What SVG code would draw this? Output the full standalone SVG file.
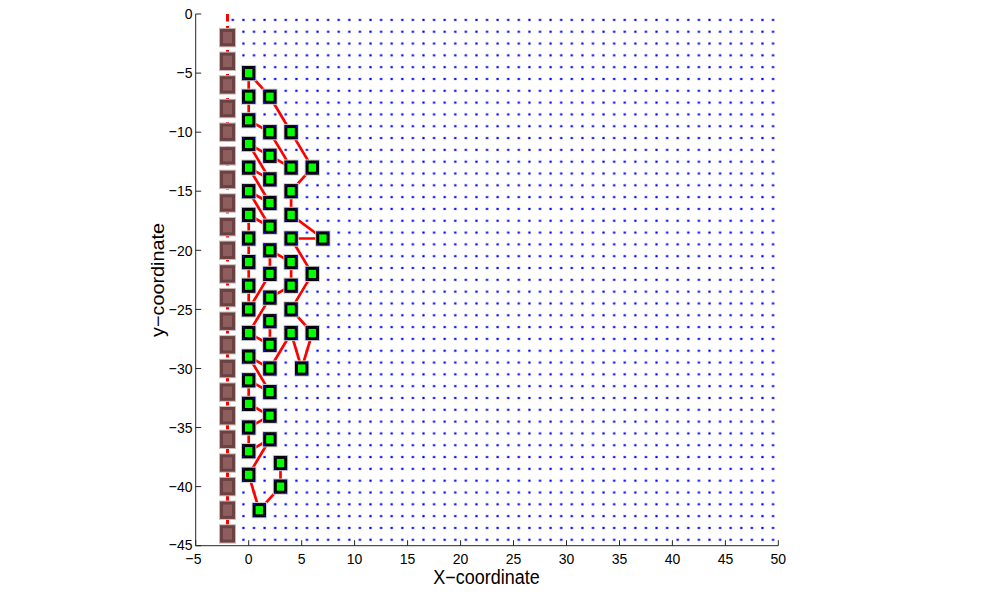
<svg xmlns="http://www.w3.org/2000/svg" xmlns:xlink="http://www.w3.org/1999/xlink" width="981" height="599" viewBox="0 0 981 599">
<style>
.edge{stroke:#ff0000;stroke-width:2.7;stroke-linecap:round;fill:none}
.dash{stroke:#ff0000;stroke-width:3;stroke-dasharray:7.5 4.5;fill:none}
.ax{stroke:#262626;stroke-width:1;fill:none}
.tk{font-family:"Liberation Sans",Arial,sans-serif;font-size:14px;fill:#000}
.lab{font-family:"Liberation Sans",Arial,sans-serif;font-size:18px;fill:#000}
</style>
<defs>
<pattern id="dots" patternUnits="userSpaceOnUse" x="227.51" y="14" width="10.593" height="11.815">
<rect x="4.2" y="4.8" width="2.2" height="2.2" fill="#0000ff"/>
</pattern>
<g id="gm">
<rect x="-5.2" y="-5.6" width="10.4" height="11.2" fill="none" stroke="#cfcfcf" stroke-width="5"/>
<rect x="-5.2" y="-5.6" width="10.4" height="11.2" fill="#00ff00" stroke="#000" stroke-width="3"/>
<rect x="-6" y="-6.4" width="1.6" height="1.6" fill="#0000ff"/>
<rect x="4.4" y="-6.4" width="1.6" height="1.6" fill="#0000ff"/>
<rect x="-6" y="4.8" width="1.6" height="1.6" fill="#0000ff"/>
<rect x="4.4" y="4.8" width="1.6" height="1.6" fill="#0000ff"/>
</g>
<g id="bm">
<rect x="-6" y="-7.2" width="12" height="14.4" fill="none" stroke="#cbb8b8" stroke-width="5"/>
<rect x="-6" y="-7.2" width="12" height="14.4" fill="#8e5d5d" stroke="#6b4141" stroke-width="3"/>
</g>
</defs>
<rect width="981" height="599" fill="#fff"/>

<g id="grid">
<rect x="227.51" y="14" width="550.84" height="531.68" fill="url(#dots)"/>
</g>

<g id="axes">
<line class="ax" x1="195.7" y1="14" x2="195.7" y2="545.7"/>
<line class="ax" x1="195.7" y1="545.7" x2="778.3" y2="545.7"/>
<path class="ax" d="M195.7 14h5.5M195.7 73.1h5.5M195.7 132.2h5.5M195.7 191.2h5.5M195.7 250.3h5.5M195.7 309.4h5.5M195.7 368.5h5.5M195.7 427.5h5.5M195.7 486.6h5.5M195.7 545.7h5.5"/>
<path class="ax" d="M195.7 545.7v-5.5M248.7 545.7v-5.5M301.7 545.7v-5.5M354.6 545.7v-5.5M407.6 545.7v-5.5M460.6 545.7v-5.5M513.5 545.7v-5.5M566.5 545.7v-5.5M619.5 545.7v-5.5M672.4 545.7v-5.5M725.4 545.7v-5.5M778.3 545.7v-5.5"/>
<g class="tk" text-anchor="end">
<text transform="translate(192.5,19.2) scale(1,1.1)">0</text>
<text transform="translate(192.5,78.3) scale(1,1.1)">−5</text>
<text transform="translate(192.5,137.4) scale(1,1.1)">−10</text>
<text transform="translate(192.5,196.4) scale(1,1.1)">−15</text>
<text transform="translate(192.5,255.5) scale(1,1.1)">−20</text>
<text transform="translate(192.5,314.6) scale(1,1.1)">−25</text>
<text transform="translate(192.5,373.7) scale(1,1.1)">−30</text>
<text transform="translate(192.5,432.7) scale(1,1.1)">−35</text>
<text transform="translate(192.5,491.8) scale(1,1.1)">−40</text>
<text transform="translate(192.5,550) scale(1,1.1)">−45</text>
</g>
<g class="tk" text-anchor="middle">
<text transform="translate(193.5,564) scale(1,1.1)">−5</text>
<text transform="translate(248.7,564) scale(1,1.1)">0</text>
<text transform="translate(301.7,564) scale(1,1.1)">5</text>
<text transform="translate(354.6,564) scale(1,1.1)">10</text>
<text transform="translate(407.6,564) scale(1,1.1)">15</text>
<text transform="translate(460.6,564) scale(1,1.1)">20</text>
<text transform="translate(513.5,564) scale(1,1.1)">25</text>
<text transform="translate(566.5,564) scale(1,1.1)">30</text>
<text transform="translate(619.5,564) scale(1,1.1)">35</text>
<text transform="translate(672.4,564) scale(1,1.1)">40</text>
<text transform="translate(725.4,564) scale(1,1.1)">45</text>
<text transform="translate(778.3,564) scale(1,1.1)">50</text>
</g>
<text class="lab" text-anchor="middle" transform="translate(486.5,584) scale(1,1.1)">X−coordinate</text>
<text class="lab" text-anchor="middle" transform="translate(164,280) scale(1,1.1) rotate(-90)">y−coordinate</text>
</g>

<g id="connectors">
<line class="dash" x1="227.5" y1="14" x2="227.5" y2="534"/>
<line class="edge" x1="248.7" y1="73.1" x2="248.7" y2="96.7"/>
<line class="edge" x1="248.7" y1="73.1" x2="269.9" y2="96.7"/>
<line class="edge" x1="248.7" y1="96.7" x2="248.7" y2="120.3"/>
<line class="edge" x1="269.9" y1="96.7" x2="291.1" y2="132.2"/>
<line class="edge" x1="248.7" y1="120.3" x2="269.9" y2="132.2"/>
<line class="edge" x1="269.9" y1="132.2" x2="291.1" y2="167.6"/>
<line class="edge" x1="291.1" y1="132.2" x2="312.3" y2="167.6"/>
<line class="edge" x1="248.7" y1="144" x2="269.9" y2="155.8"/>
<line class="edge" x1="248.7" y1="144" x2="269.9" y2="179.4"/>
<line class="edge" x1="269.9" y1="155.8" x2="291.1" y2="167.6"/>
<line class="edge" x1="248.7" y1="167.6" x2="269.9" y2="179.4"/>
<line class="edge" x1="248.7" y1="167.6" x2="269.9" y2="203"/>
<line class="edge" x1="312.3" y1="167.6" x2="291.1" y2="191.2"/>
<line class="edge" x1="248.7" y1="191.2" x2="269.9" y2="203"/>
<line class="edge" x1="248.7" y1="191.2" x2="269.9" y2="226.7"/>
<line class="edge" x1="291.1" y1="191.2" x2="291.1" y2="214.9"/>
<line class="edge" x1="248.7" y1="214.9" x2="269.9" y2="226.7"/>
<line class="edge" x1="248.7" y1="214.9" x2="248.7" y2="238.5"/>
<line class="edge" x1="291.1" y1="214.9" x2="322.9" y2="238.5"/>
<line class="edge" x1="291.1" y1="238.5" x2="322.9" y2="238.5"/>
<line class="edge" x1="248.7" y1="238.5" x2="248.7" y2="262.1"/>
<line class="edge" x1="269.9" y1="250.3" x2="291.1" y2="262.1"/>
<line class="edge" x1="269.9" y1="250.3" x2="269.9" y2="273.9"/>
<line class="edge" x1="291.1" y1="238.5" x2="312.3" y2="273.9"/>
<line class="edge" x1="248.7" y1="262.1" x2="248.7" y2="285.7"/>
<line class="edge" x1="291.1" y1="262.1" x2="291.1" y2="285.7"/>
<line class="edge" x1="248.7" y1="309.4" x2="269.9" y2="273.9"/>
<line class="edge" x1="248.7" y1="285.7" x2="248.7" y2="309.4"/>
<line class="edge" x1="269.9" y1="297.6" x2="291.1" y2="285.7"/>
<line class="edge" x1="312.3" y1="273.9" x2="291.1" y2="309.4"/>
<line class="edge" x1="269.9" y1="297.6" x2="248.7" y2="333"/>
<line class="edge" x1="269.9" y1="321.2" x2="269.9" y2="344.8"/>
<line class="edge" x1="248.7" y1="333" x2="269.9" y2="344.8"/>
<line class="edge" x1="291.1" y1="309.4" x2="312.3" y2="333"/>
<line class="edge" x1="291.1" y1="333" x2="301.7" y2="368.5"/>
<line class="edge" x1="312.3" y1="333" x2="301.7" y2="368.5"/>
<line class="edge" x1="291.1" y1="333" x2="269.9" y2="368.5"/>
<line class="edge" x1="248.7" y1="356.6" x2="269.9" y2="368.5"/>
<line class="edge" x1="248.7" y1="356.6" x2="269.9" y2="392.1"/>
<line class="edge" x1="248.7" y1="380.3" x2="269.9" y2="392.1"/>
<line class="edge" x1="248.7" y1="380.3" x2="248.7" y2="403.9"/>
<line class="edge" x1="248.7" y1="403.9" x2="269.9" y2="415.7"/>
<line class="edge" x1="248.7" y1="427.5" x2="269.9" y2="415.7"/>
<line class="edge" x1="248.7" y1="427.5" x2="248.7" y2="451.2"/>
<line class="edge" x1="248.7" y1="451.2" x2="269.9" y2="439.3"/>
<line class="edge" x1="248.7" y1="474.8" x2="269.9" y2="439.3"/>
<line class="edge" x1="248.7" y1="474.8" x2="259.3" y2="510.2"/>
<line class="edge" x1="259.3" y1="510.2" x2="280.5" y2="486.6"/>
<line class="edge" x1="280.5" y1="486.6" x2="280.5" y2="463"/>
</g>

<g id="anchors">
<g id="b2"><use href="#bm" x="227.5" y="37.6"/></g>
<g id="b4"><use href="#bm" x="227.5" y="61.3"/></g>
<g id="b6"><use href="#bm" x="227.5" y="84.9"/></g>
<g id="b8"><use href="#bm" x="227.5" y="108.5"/></g>
<g id="b10"><use href="#bm" x="227.5" y="132.2"/></g>
<g id="b12"><use href="#bm" x="227.5" y="155.8"/></g>
<g id="b14"><use href="#bm" x="227.5" y="179.4"/></g>
<g id="b16"><use href="#bm" x="227.5" y="203"/></g>
<g id="b18"><use href="#bm" x="227.5" y="226.7"/></g>
<g id="b20"><use href="#bm" x="227.5" y="250.3"/></g>
<g id="b22"><use href="#bm" x="227.5" y="273.9"/></g>
<g id="b24"><use href="#bm" x="227.5" y="297.6"/></g>
<g id="b26"><use href="#bm" x="227.5" y="321.2"/></g>
<g id="b28"><use href="#bm" x="227.5" y="344.8"/></g>
<g id="b30"><use href="#bm" x="227.5" y="368.5"/></g>
<g id="b32"><use href="#bm" x="227.5" y="392.1"/></g>
<g id="b34"><use href="#bm" x="227.5" y="415.7"/></g>
<g id="b36"><use href="#bm" x="227.5" y="439.3"/></g>
<g id="b38"><use href="#bm" x="227.5" y="463"/></g>
<g id="b40"><use href="#bm" x="227.5" y="486.6"/></g>
<g id="b42"><use href="#bm" x="227.5" y="510.2"/></g>
<g id="b44"><use href="#bm" x="227.5" y="533.9"/></g>
</g>

<g id="nodes">
<g id="n0_5"><use href="#gm" x="248.7" y="73.1"/></g>
<g id="n0_7"><use href="#gm" x="248.7" y="96.7"/></g>
<g id="n0_9"><use href="#gm" x="248.7" y="120.3"/></g>
<g id="n0_11"><use href="#gm" x="248.7" y="144"/></g>
<g id="n0_13"><use href="#gm" x="248.7" y="167.6"/></g>
<g id="n0_15"><use href="#gm" x="248.7" y="191.2"/></g>
<g id="n0_17"><use href="#gm" x="248.7" y="214.9"/></g>
<g id="n0_19"><use href="#gm" x="248.7" y="238.5"/></g>
<g id="n0_21"><use href="#gm" x="248.7" y="262.1"/></g>
<g id="n0_23"><use href="#gm" x="248.7" y="285.7"/></g>
<g id="n0_25"><use href="#gm" x="248.7" y="309.4"/></g>
<g id="n0_27"><use href="#gm" x="248.7" y="333"/></g>
<g id="n0_29"><use href="#gm" x="248.7" y="356.6"/></g>
<g id="n0_31"><use href="#gm" x="248.7" y="380.3"/></g>
<g id="n0_33"><use href="#gm" x="248.7" y="403.9"/></g>
<g id="n0_35"><use href="#gm" x="248.7" y="427.5"/></g>
<g id="n0_37"><use href="#gm" x="248.7" y="451.2"/></g>
<g id="n0_39"><use href="#gm" x="248.7" y="474.8"/></g>
<g id="n2_7"><use href="#gm" x="269.9" y="96.7"/></g>
<g id="n2_10"><use href="#gm" x="269.9" y="132.2"/></g>
<g id="n2_12"><use href="#gm" x="269.9" y="155.8"/></g>
<g id="n2_14"><use href="#gm" x="269.9" y="179.4"/></g>
<g id="n2_16"><use href="#gm" x="269.9" y="203"/></g>
<g id="n2_18"><use href="#gm" x="269.9" y="226.7"/></g>
<g id="n2_20"><use href="#gm" x="269.9" y="250.3"/></g>
<g id="n2_22"><use href="#gm" x="269.9" y="273.9"/></g>
<g id="n2_24"><use href="#gm" x="269.9" y="297.6"/></g>
<g id="n2_26"><use href="#gm" x="269.9" y="321.2"/></g>
<g id="n2_28"><use href="#gm" x="269.9" y="344.8"/></g>
<g id="n2_30"><use href="#gm" x="269.9" y="368.5"/></g>
<g id="n2_32"><use href="#gm" x="269.9" y="392.1"/></g>
<g id="n2_34"><use href="#gm" x="269.9" y="415.7"/></g>
<g id="n2_36"><use href="#gm" x="269.9" y="439.3"/></g>
<g id="n4_10"><use href="#gm" x="291.1" y="132.2"/></g>
<g id="n4_13"><use href="#gm" x="291.1" y="167.6"/></g>
<g id="n4_15"><use href="#gm" x="291.1" y="191.2"/></g>
<g id="n4_17"><use href="#gm" x="291.1" y="214.9"/></g>
<g id="n4_19"><use href="#gm" x="291.1" y="238.5"/></g>
<g id="n4_21"><use href="#gm" x="291.1" y="262.1"/></g>
<g id="n4_23"><use href="#gm" x="291.1" y="285.7"/></g>
<g id="n4_25"><use href="#gm" x="291.1" y="309.4"/></g>
<g id="n4_27"><use href="#gm" x="291.1" y="333"/></g>
<g id="n6_13"><use href="#gm" x="312.3" y="167.6"/></g>
<g id="n6_22"><use href="#gm" x="312.3" y="273.9"/></g>
<g id="n6_27"><use href="#gm" x="312.3" y="333"/></g>
<g id="n7_19"><use href="#gm" x="322.9" y="238.5"/></g>
<g id="n5_30"><use href="#gm" x="301.7" y="368.5"/></g>
<g id="n3_38"><use href="#gm" x="280.5" y="463"/></g>
<g id="n3_40"><use href="#gm" x="280.5" y="486.6"/></g>
<g id="n1_42"><use href="#gm" x="259.3" y="510.2"/></g>
</g>
</svg>
